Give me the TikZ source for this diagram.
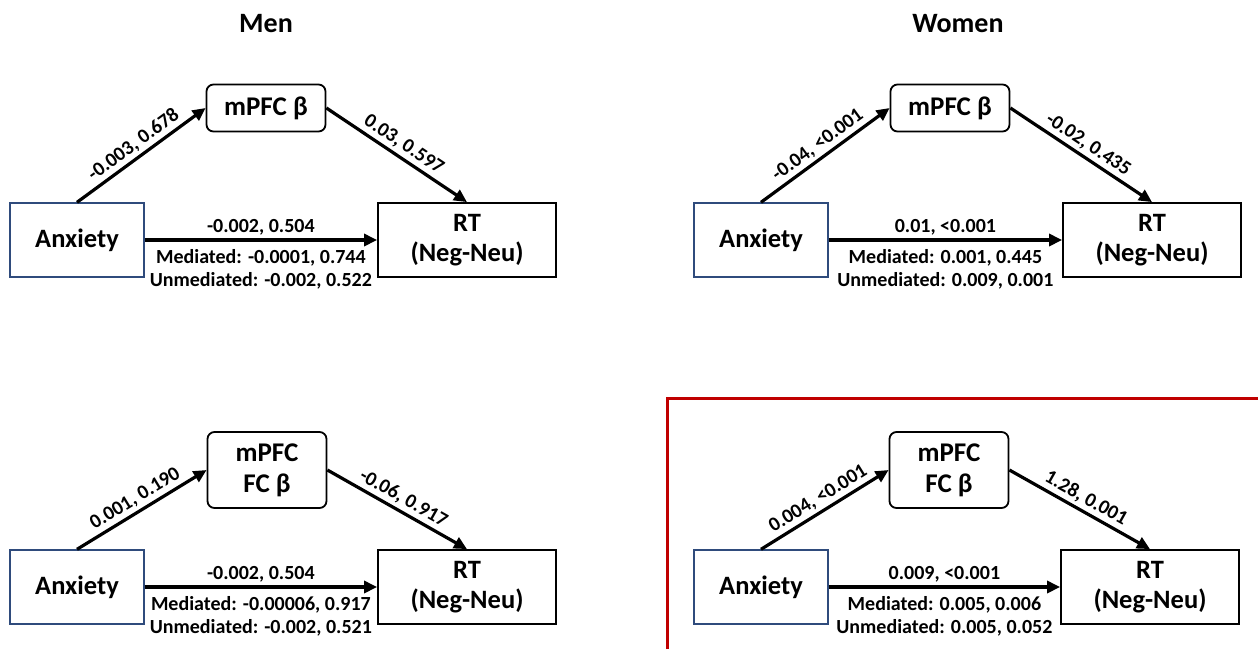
\documentclass[tikz,border=0pt]{standalone}
\usepackage{fontspec}
\setmainfont{Carlito}
\usetikzlibrary{arrows.meta}
\definecolor{navy}{HTML}{2F4B7C}
\definecolor{darkred}{HTML}{C00000}

\begin{document}
\begin{tikzpicture}[x=1pt, y=-1pt,
	bx/.style={draw, line width=1.8pt, minimum width=178pt, minimum height=74pt, align=center, font=\bfseries\fontsize{26.5}{30}\selectfont},
	anx/.style={bx, draw=navy, line width=1.4pt, minimum width=134pt},
	med/.style={bx, rounded corners=7pt, minimum width=119pt, minimum height=47pt, font=\bfseries\fontsize{27}{31}\selectfont},
	ar/.style={-{Triangle[length=13pt, width=12pt]}, line width=3.2pt},
	lab/.style={font=\bfseries\fontsize{20}{23}\selectfont, inner sep=3pt},
	ttl/.style={font=\bfseries\fontsize{28}{32}\selectfont}]
	\useasboundingbox (0,0) rectangle (1258,649);

	\node[ttl] (t1) at (266,24) {Men};
	\node[ttl] (t2) at (958,24) {Women};

	% top left
	\node[anx] (a1) at (77,240) {Anxiety};
	\node[med] (m1) at (266,108) {mPFC β};
	\node[bx] (r1) at (467,240) {RT\\(Neg-Neu)};

	\draw[ar] (a1.north) -- node[lab, sloped, above] {-0.003, 0.678} (m1.west);
	\draw[ar] (m1.east) -- node[lab, sloped, above] {0.03, 0.597} (r1.north);
	\draw[ar] (a1.east) -- node[lab, above] {-0.002, 0.504}
		node[lab, below=5pt, align=center] {Mediated: -0.0001, 0.744\\Unmediated: -0.002, 0.522} (r1.west);

	% top right
	\node[anx] (a2) at (761,240) {Anxiety};
	\node[med] (m2) at (950,108) {mPFC β};
	\node[bx] (r2) at (1152,240) {RT\\(Neg-Neu)};

	\draw[ar] (a2.north) -- node[lab, sloped, above] {-0.04, <0.001} (m2.west);
	\draw[ar] (m2.east) -- node[lab, sloped, above] {-0.02, 0.435} (r2.north);
	\draw[ar] (a2.east) -- node[lab, above] {0.01, <0.001}
		node[lab, below=5pt, align=center] {Mediated: 0.001, 0.445\\Unmediated: 0.009, 0.001} (r2.west);

	% bottom left
	\node[anx] (a3) at (77,587) {Anxiety};
	\node[med, minimum height=76pt] (m3) at (267,470) {mPFC\\FC β};
	\node[bx] (r3) at (467,587) {RT\\(Neg-Neu)};

	\draw[ar] (a3.north) -- node[lab, sloped, above] {0.001, 0.190} (m3.west);
	\draw[ar] (m3.east) -- node[lab, sloped, above] {-0.06, 0.917} (r3.north);
	\draw[ar] (a3.east) -- node[lab, above] {-0.002, 0.504}
		node[lab, below=5pt, align=center] {Mediated: -0.00006, 0.917\\Unmediated: -0.002, 0.521} (r3.west);

	% bottom right, framed
	\draw[darkred, line width=3pt] (667,649) |- (1258,398);
	\node[anx] (a4) at (761,587) {Anxiety};
	\node[med, minimum height=76pt] (m4) at (949,470) {mPFC\\FC β};
	\node[bx] (r4) at (1150,587) {RT\\(Neg-Neu)};

	\draw[ar] (a4.north) -- node[lab, sloped, above] {0.004, <0.001} (m4.west);
	\draw[ar] (m4.east) -- node[lab, sloped, above] {1.28, 0.001} (r4.north);
	\draw[ar] (a4.east) -- node[lab, above] {0.009, <0.001}
		node[lab, below=5pt, align=center] {Mediated: 0.005, 0.006\\Unmediated: 0.005, 0.052} (r4.west);
\end{tikzpicture}
\end{document}
